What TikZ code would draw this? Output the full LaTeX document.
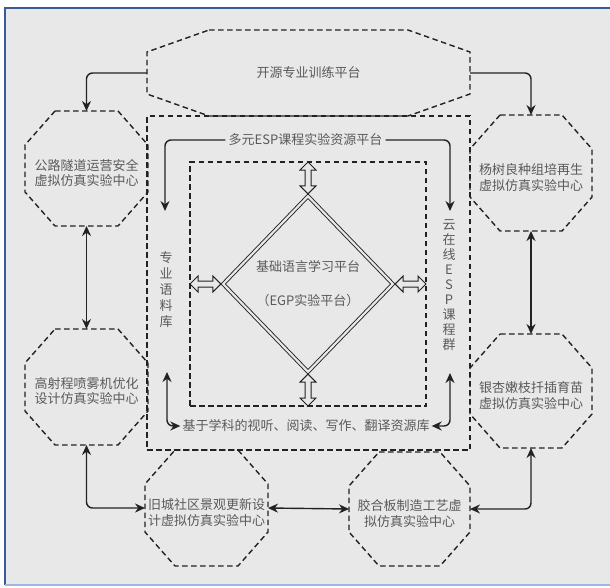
\documentclass[tikz,border=0pt]{standalone}
\usepackage{fontspec}
\setmainfont{Noto Sans CJK SC}
\usetikzlibrary{arrows.meta,calc,shapes.geometric}
\definecolor{bg}{HTML}{E8E8E8}
\definecolor{frameA}{HTML}{3A5A98}
\definecolor{frameB}{HTML}{9DB5E0}
\definecolor{txt}{HTML}{5A5A5A}
\definecolor{ln}{HTML}{222222}
\newcommand\octdraw[3]{%
  \draw[dsh] ($(#1.north west)+(#2,0pt)$) -- ($(#1.north east)+(-#2,0pt)$)
    -- ($(#1.north east)+(0pt,-#3)$) -- ($(#1.south east)+(0pt,#3)$)
    -- ($(#1.south east)+(-#2,0pt)$) -- ($(#1.south west)+(#2,0pt)$)
    -- ($(#1.south west)+(0pt,#3)$) -- ($(#1.north west)+(0pt,-#3)$) -- cycle;}
% hollow double-headed arrows (y axis points down)
\newcommand\vhol[2]{%
  \draw[holw] (#1) -- ($(#1)+(8,8)$) -- ($(#1)+(3,8)$) -- ($(#2)+(3,-8)$)
    -- ($(#2)+(8,-8)$) -- (#2) -- ($(#2)+(-8,-8)$) -- ($(#2)+(-3,-8)$)
    -- ($(#1)+(-3,8)$) -- ($(#1)+(-8,8)$) -- cycle;}
\newcommand\hhol[2]{%
  \draw[holw] (#1) -- ($(#1)+(8,-8)$) -- ($(#1)+(8,-3)$) -- ($(#2)+(-8,-3)$)
    -- ($(#2)+(-8,-8)$) -- (#2) -- ($(#2)+(-8,8)$) -- ($(#2)+(-8,3)$)
    -- ($(#1)+(8,3)$) -- ($(#1)+(8,8)$) -- cycle;}
\newcommand\tx[2]{\raisebox{-9pt}[0pt][0pt]{\begin{tabular}{@{}c@{}}#1\\#2\end{tabular}}}
\tikzset{
  dsh/.style={draw=ln, line width=1.4pt, dash pattern=on 5.5pt off 3.5pt},
  lbl/.style={text=txt, font=\fontsize{13pt}{15pt}\selectfont, align=center},
  octn/.style={lbl, rectangle, draw=none, outer sep=0pt, inner sep=0pt,
    minimum width=123pt, minimum height=116pt},
  boxn/.style={dsh, rectangle, outer sep=0pt, inner sep=0pt},
  arr/.style={draw=ln, line width=1.4pt, rounded corners=6pt,
    -{Stealth[length=10pt,width=9pt]}},
  arrb/.style={draw=ln, line width=1.4pt, rounded corners=6pt,
    {Stealth[length=10pt,width=9pt]}-{Stealth[length=10pt,width=9pt]}},
  holw/.style={draw=ln, fill=bg, line width=1pt, line join=miter},
}
\begin{document}
\begin{tikzpicture}[x=1pt,y=-1pt]
\useasboundingbox (0,0) rectangle (610,587);
\fill[white] (0,0) rectangle (610,587);
\fill[bg] (5,8) rectangle (610,585);
\draw[frameA, line width=2pt] (5,585) -- (5,8) -- (610,8);
\draw[frameB, line width=1.5pt] (5,585) -- (610,585);

% octagon nodes
\node[octn, minimum width=323pt, minimum height=86pt] (top) at (308.5,73) {开源专业训练平台};
\node[octn, minimum height=115pt] (L1) at (86.5,168.5) {\tx{公路隧道运营安全}{虚拟仿真实验中心}};
\node[octn] (L2) at (86.5,387) {\tx{高射程喷雾机优化}{设计仿真实验中心}};
\node[octn, minimum width=122pt] (R1) at (531,173) {\tx{杨树良种组培再生}{虚拟仿真实验中心}};
\node[octn, minimum width=122pt, minimum height=114pt] (R2) at (531,391) {\tx{银杏嫩枝扦插育苗}{虚拟仿真实验中心}};
\node[octn] (B1) at (206.5,508) {\tx{旧城社区景观更新设}{计虚拟仿真实验中心}};
\node[octn, minimum width=121pt, minimum height=114pt] (B2) at (409.5,509) {\tx{胶合板制造工艺虚}{拟仿真实验中心}};
\octdraw{top}{62pt}{22pt}
\octdraw{L1}{30pt}{34pt}
\octdraw{L2}{30pt}{34pt}
\octdraw{R1}{30pt}{34pt}
\octdraw{R2}{30pt}{34pt}
\octdraw{B1}{30pt}{34pt}
\octdraw{B2}{30pt}{34pt}

% boxes
\node[boxn, minimum width=323pt, minimum height=334pt] (mid) at (308.5,283) {};
\node[boxn, minimum width=236pt, minimum height=244pt] (inner) at (308,284) {};
\node[diamond, draw=ln, double=bg, double distance=2.2pt, line width=0.9pt,
  minimum width=171pt, minimum height=177pt, inner sep=0pt, outer sep=1.6pt, lbl]
  (dia) at (308,284) {基础语言学习平台\\[19pt]（EGP实验平台）};

% texts
\node[lbl, inner sep=3pt] (esp) at (305.5,140) {多元ESP课程实验资源平台};
\node[lbl, font=\fontsize{13pt}{16pt}\selectfont] (zl) at (166,290) {专\\业\\语\\料\\库};
\node[lbl, font=\fontsize{13pt}{15pt}\selectfont] (yz) at (449,285) {云\\在\\线\\E\\S\\P\\课\\程\\群};
\node[lbl, inner sep=2pt] (basis) at (306,426) {基于学科的视听、阅读、写作、翻译资源库};
\coordinate (cL) at (165,211);
\coordinate (cR) at (450,211);
\coordinate (cBL) at (167,372);
\coordinate (cBR) at (450,373);

% connectors
\draw[arr] (top.west) -| (L1.north);
\draw[arr] (top.east) -| (R1.north);
\draw[arrb] (L1.south) -- (L2.north);
\draw[arrb] (R1.south) -- (R2.north);
\draw[arrb] (L2.south) |- (B1.west);
\draw[arrb] (R2.south) |- (B2.east);
\draw[arrb] (B1.east) -- (B2.west);
\draw[arr] (esp.west) -| (cL);
\draw[arr] (esp.east) -| (cR);
\draw[arrb] (cBL) |- (basis.west);
\draw[arrb] (cBR) |- (basis.east);
\vhol{inner.north}{dia.north}
\vhol{dia.south}{inner.south}
\hhol{inner.west}{dia.west}
\hhol{dia.east}{inner.east}
\end{tikzpicture}
\end{document}
